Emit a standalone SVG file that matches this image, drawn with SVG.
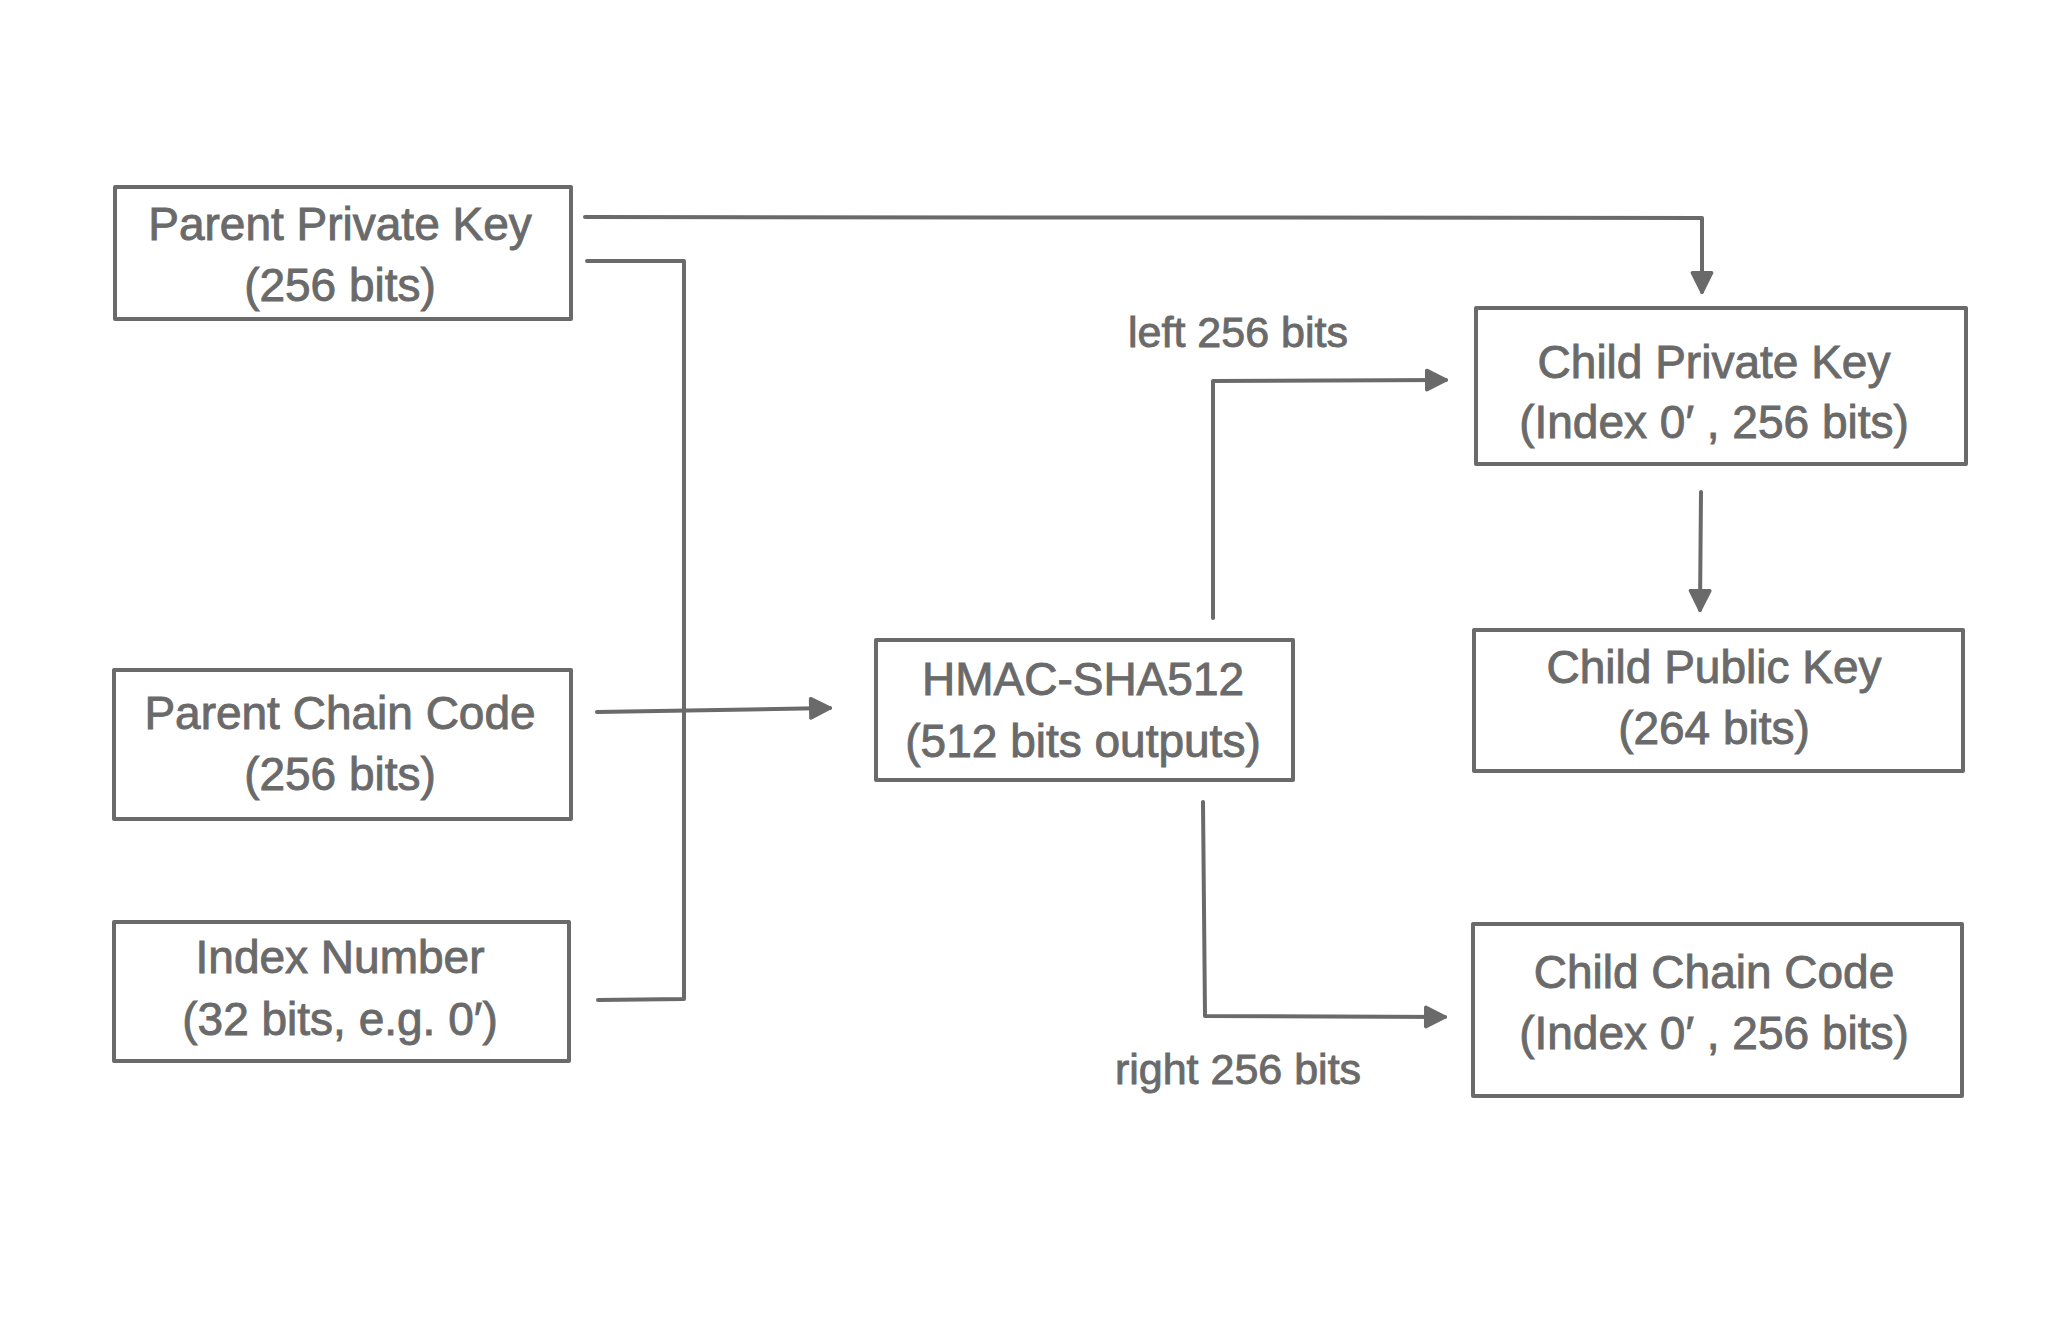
<svg xmlns="http://www.w3.org/2000/svg" width="2048" height="1340" viewBox="0 0 2048 1340">
<defs>
<style>
.box{fill:#ffffff;stroke:#6a6a6a;stroke-width:4;stroke-linejoin:round}
.t{font-family:"Liberation Sans",Arial,sans-serif;font-size:46px;fill:#6a6a6a;stroke:#6a6a6a;stroke-width:0.9;text-anchor:middle}
.lbl{font-family:"Liberation Sans",Arial,sans-serif;font-size:43px;fill:#6a6a6a;stroke:#6a6a6a;stroke-width:0.9;text-anchor:middle}
.c{fill:none;stroke:#6a6a6a;stroke-width:4;stroke-linejoin:round;stroke-linecap:round}
</style>
<marker id="ah" viewBox="0 0 10 10" refX="9" refY="5" markerWidth="6" markerHeight="6" markerUnits="strokeWidth" orient="auto">
<path d="M1,1 L9,5 L1,9 Z" fill="#6a6a6a" stroke="#6a6a6a" stroke-width="1.5" stroke-linejoin="round"/>
</marker>
</defs>
<rect width="2048" height="1340" fill="#ffffff"/>
<g id="connectors">
<path class="c" d="M585,217 L1702,218 L1702,292" marker-end="url(#ah)"/>
<path class="c" d="M587,261 L684,261 L684,999 L598,1000"/>
<path class="c" d="M597,712 L830,708" marker-end="url(#ah)"/>
<path class="c" d="M1213,618 L1213,381 L1446,380" marker-end="url(#ah)"/>
<path class="c" d="M1203,802 L1205,1016 L1445,1017" marker-end="url(#ah)"/>
<path class="c" d="M1701,492 L1700,610" marker-end="url(#ah)"/>
</g>
<g id="parent-private-key">
<rect class="box" x="115" y="187" width="456" height="132"/>
<text class="t" x="340" y="240">Parent Private Key</text>
<text class="t" x="340" y="301">(256 bits)</text>
</g>
<g id="parent-chain-code">
<rect class="box" x="114" y="670" width="457" height="149"/>
<text class="t" x="340" y="729">Parent Chain Code</text>
<text class="t" x="340" y="790">(256 bits)</text>
</g>
<g id="index-number">
<rect class="box" x="114" y="922" width="455" height="139"/>
<text class="t" x="340" y="973">Index Number</text>
<text class="t" x="340" y="1035">(32 bits, e.g. 0′)</text>
</g>
<g id="hmac">
<rect class="box" x="876" y="640" width="417" height="140"/>
<text class="t" x="1083" y="695">HMAC-SHA512</text>
<text class="t" x="1083" y="757">(512 bits outputs)</text>
</g>
<g id="child-private-key">
<rect class="box" x="1476" y="308" width="490" height="156"/>
<text class="t" x="1714" y="378">Child Private Key</text>
<text class="t" x="1714" y="438">(Index 0′ , 256 bits)</text>
</g>
<g id="child-public-key">
<rect class="box" x="1474" y="630" width="489" height="141"/>
<text class="t" x="1714" y="683">Child Public Key</text>
<text class="t" x="1714" y="744">(264 bits)</text>
</g>
<g id="child-chain-code">
<rect class="box" x="1473" y="924" width="489" height="172"/>
<text class="t" x="1714" y="988">Child Chain Code</text>
<text class="t" x="1714" y="1049">(Index 0′ , 256 bits)</text>
</g>
<g id="labels">
<text class="lbl" x="1238" y="347">left 256 bits</text>
<text class="lbl" x="1238" y="1084">right 256 bits</text>
</g>
</svg>
